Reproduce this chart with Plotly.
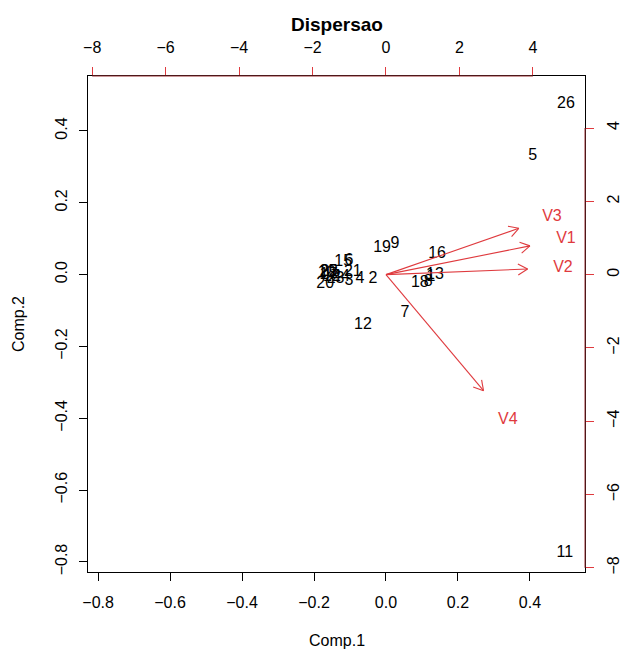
import plotly.graph_objects as go
import numpy as np

# ---- data ----
obs_labels = [str(i) for i in range(1, 27)]
comp1 = [0.125, -0.036, -0.103, -0.072, 0.408, -0.103, 0.053, 0.117, 0.025, -0.165,
         0.497, -0.064, 0.136, -0.150, -0.119, 0.142, -0.160, 0.094, -0.011, -0.169,
         -0.092, -0.158, -0.140, -0.125, -0.160, 0.500]
comp2 = [-0.006, -0.011, -0.017, -0.011, 0.331, 0.039, -0.106, -0.020, 0.084, 0.005,
         -0.774, -0.139, 0.000, -0.008, 0.036, 0.058, -0.002, -0.022, 0.075, -0.025,
         0.006, 0.006, -0.012, -0.006, 0.008, 0.476]
var_labels = ["V1", "V2", "V3", "V4"]
load1 = [4.90, 4.82, 4.52, 3.32]
load2 = [0.98, 0.19, 1.58, -3.96]
x_ticks = [-0.8, -0.6, -0.4, -0.2, 0.0, 0.2, 0.4]
y_ticks = [-0.8, -0.6, -0.4, -0.2, 0.0, 0.2, 0.4]
sec_ticks = [-8, -6, -4, -2, 0, 2, 4]

RED = "#DF3A3E"
EDGE_RED = "#9A3034"
FONT = "Liberation Sans, Arial, sans-serif"
W, H = 620, 651
L, R, T, B = 88, 35, 76, 79
pw, ph = W - L - R, H - T - B

prim_range = [-0.828, 0.553]
lam = 9.8
sec_range = [prim_range[0] * lam, prim_range[1] * lam]

fig = go.Figure()

fig.add_trace(go.Scatter(
    x=comp1, y=comp2, text=obs_labels, mode="text",
    textposition="middle center",
    textfont=dict(family=FONT, size=16, color="black"),
    xaxis="x", yaxis="y", hoverinfo="skip", showlegend=False))

# arrows (to 0.8 of loadings), labels at loadings
sx = pw / (sec_range[1] - sec_range[0])
sy = ph / (sec_range[1] - sec_range[0])
head = 11.0
ax_, ay_ = [], []
for a, b in zip(load1, load2):
    tx, ty = 0.8 * a, 0.8 * b
    ax_ += [0, tx, None]
    ay_ += [0, ty, None]
    dx, dy = tx * sx, ty * sy
    n = np.hypot(dx, dy)
    ux, uy = dx / n, dy / n
    for ang in (np.pi / 6, -np.pi / 6):
        c, s = np.cos(ang), np.sin(ang)
        bx = ux * c - uy * s
        by = ux * s + uy * c
        ax_ += [tx - head * bx / sx, tx, None]
        ay_ += [ty - head * by / sy, ty, None]

fig.add_trace(go.Scatter(
    x=ax_, y=ay_, mode="lines", line=dict(color=RED, width=1.1),
    xaxis="x2", yaxis="y2", hoverinfo="skip", showlegend=False))

fig.add_trace(go.Scatter(
    x=load1, y=load2, text=var_labels, mode="text",
    textposition="middle center",
    textfont=dict(family=FONT, size=16, color=RED),
    xaxis="x2", yaxis="y2", hoverinfo="skip", showlegend=False))

axis_common = dict(showgrid=False, zeroline=False, ticks="outside", ticklen=8,
                   automargin=False,
                   tickfont=dict(family=FONT, size=16, color="black"))

fig.update_layout(
    template="none",
    width=W, height=H, margin=dict(l=L, r=R, t=T, b=B, pad=0),
    paper_bgcolor="white", plot_bgcolor="white",
    xaxis=dict(range=prim_range, tickvals=x_ticks,
               ticktext=[f"{v:.1f}".replace("-", "\u2212") for v in x_ticks],
               showline=True, linecolor="black", linewidth=1, mirror=True,
               tickcolor="black", ticklabelstandoff=8, **axis_common),
    yaxis=dict(range=prim_range, tickvals=y_ticks,
               ticktext=[f"{v:.1f}".replace("-", "\u2212") for v in y_ticks],
               showline=True, linecolor="black", linewidth=1, mirror=True,
               tickcolor="black", tickangle=-90, ticklabelstandoff=6, **axis_common),
    xaxis2=dict(range=sec_range, tickvals=sec_ticks,
                ticktext=[str(v).replace("-", "\u2212") for v in sec_ticks],
                overlaying="x", side="top", anchor="y", showline=False,
                tickcolor=RED, ticklabelstandoff=8, **axis_common),
    yaxis2=dict(range=sec_range, tickvals=sec_ticks,
                ticktext=[str(v).replace("-", "\u2212") for v in sec_ticks],
                overlaying="y", side="right", anchor="x", showline=False,
                tickcolor=RED, tickangle=-90, ticklabelstandoff=6, **axis_common),
)

# axis lines along top and right (first to last tick), red over black box
fig.add_shape(type="line", xref="x2", yref="paper", x0=sec_ticks[0], x1=sec_ticks[-1],
              y0=1, y1=1, line=dict(color=EDGE_RED, width=1))
fig.add_shape(type="line", xref="paper", yref="y2", x0=1, x1=1,
              y0=sec_ticks[0], y1=sec_ticks[-1], line=dict(color=EDGE_RED, width=1))

fig.add_annotation(text="<b>Dispersao</b>", xref="paper", yref="paper", x=0.5,
                   y=1 + (T - 24) / ph, showarrow=False, yanchor="middle",
                   font=dict(family=FONT, size=19, color="black"))
fig.add_annotation(text="Comp.1", xref="paper", yref="paper", x=0.5,
                   y=-(640 - (T + ph)) / ph, showarrow=False, yanchor="middle",
                   font=dict(family=FONT, size=16, color="black"))
fig.add_annotation(text="Comp.2", xref="paper", yref="paper", y=0.5,
                   x=-(L - 18) / pw, showarrow=False, xanchor="center", textangle=-90,
                   font=dict(family=FONT, size=16, color="black"))

fig.write_html("out.html")
